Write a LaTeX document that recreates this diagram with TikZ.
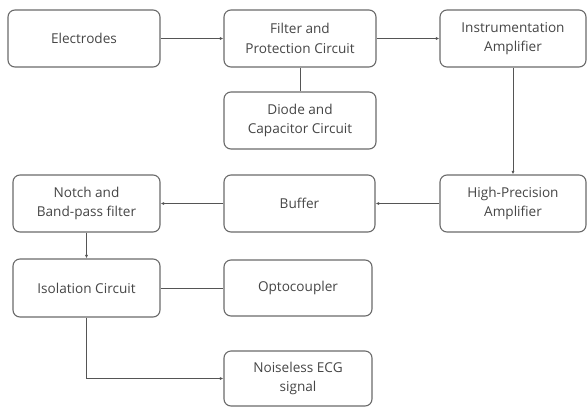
\documentclass[tikz,border=0pt]{standalone}
\usepackage{fontspec}
\setmainfont{Open Sans}
\usetikzlibrary{arrows.meta}
\definecolor{boxline}{HTML}{6A6A6A}
\definecolor{txt}{HTML}{454545}
\definecolor{conn}{HTML}{555555}
\begin{document}
\begin{tikzpicture}[x=1pt,y=-1pt,
  blk/.style={draw=boxline, line width=1.1pt, rounded corners=7pt, align=center,
    text=txt, font=\fontsize{13.6}{19.5}\selectfont, inner sep=0pt},
  arr/.style={draw=conn, line width=0.9pt, -{Latex[length=3.5pt,width=3pt]}},
  lnk/.style={draw=conn, line width=0.9pt}]
\useasboundingbox (0,0) rectangle (588,407);
\node[blk, minimum width=152pt, minimum height=57pt] (el) at (84,38.5) {Electrodes};
\node[blk, minimum width=152pt, minimum height=57pt] (fp) at (300,38.5) {Filter and\\Protection Circuit};
\node[blk, minimum width=146pt, minimum height=57pt] (ia) at (513,38.5) {Instrumentation\\Amplifier};
\node[blk, minimum width=152pt, minimum height=57pt] (dc) at (300,120.5) {Diode and\\Capacitor Circuit};
\node[blk, minimum width=146pt, minimum height=57pt] (hp) at (513,203.5) {High-Precision\\Amplifier};
\node[blk, minimum width=151pt, minimum height=57pt] (bu) at (299.5,203.5) {Buffer};
\node[blk, minimum width=147pt, minimum height=57pt] (nb) at (86.5,203.5) {Notch and\\Band-pass filter};
\node[blk, minimum width=147pt, minimum height=58pt] (ic) at (86.5,288) {Isolation Circuit};
\node[blk, minimum width=148pt, minimum height=56pt] (oc) at (298,288) {Optocoupler};
\node[blk, minimum width=148pt, minimum height=55pt] (ne) at (298,378.5) {Noiseless ECG\\signal};
\draw[arr] (el) -- (fp);
\draw[arr] (fp) -- (ia);
\draw[lnk] (fp) -- (dc);
\draw[arr] (ia) -- (hp);
\draw[arr] (hp) -- (bu);
\draw[arr] (bu) -- (nb);
\draw[arr] (nb) -- (ic);
\draw[lnk] (ic) -- (oc);
\draw[arr] (ic.south) |- (ne.west);
\end{tikzpicture}
\end{document}
